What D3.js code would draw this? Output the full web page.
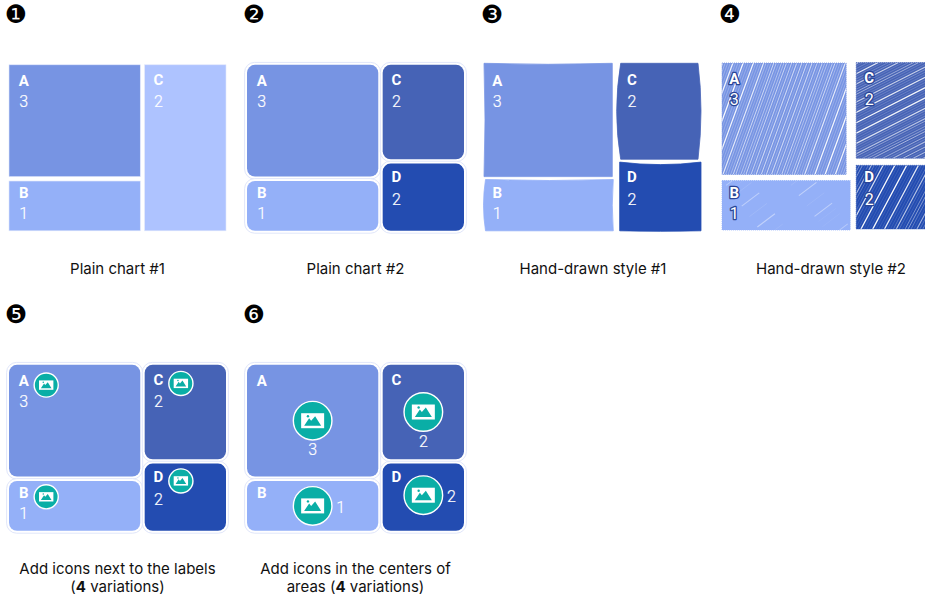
<!DOCTYPE html>
<html>
<head>
    <meta charset="utf-8">
    <title>Treemap variations</title>
    <script src="https://d3js.org/d3.v7.min.js"></script>
    <style>
        body { margin: 0; background: white; overflow: hidden; }
        .caption { font-family: Inter, sans-serif; font-size: 15px; fill: #111; text-anchor: middle; }
        .name { font-family: Roboto, sans-serif; font-size: 15px; font-weight: 700; fill: white; text-anchor: middle; }
        .val { font-family: Roboto, sans-serif; font-size: 16px; font-weight: 300; fill: white; stroke: white; stroke-width: 0.2px; text-anchor: middle; }
    </style>
</head>
<body>
    <div id="chart"></div>

    <script>
        // data
        var categories = ["A", "B", "C", "D"];
        var values = [3, 1, 2, 2];
        // the drawn areas are not proportional to the labels, so they get their own weights
        var areaWeights = [150.6, 70.2, 80.9, 58.6];
        var columns = [["A", "B"], ["C", "D"]];
        var colors = ["#7794e3", "#94b0f8", "#4663b6", "#234cb1"];
        var plainC = "#aec3ff";
        var badges = ["❶", "❷", "❸", "❹", "❺", "❻"];
        var captions = [
            ["Plain chart #1"],
            ["Plain chart #2"],
            ["Hand-drawn style #1"],
            ["Hand-drawn style #2"],
            ["Add icons next to the labels", "(<b>4</b> variations)"],
            ["Add icons in the centers of", "areas (<b>4</b> variations)"]
        ];

        var svg = d3.select("#chart").append("svg")
            .attr("width", 925)
            .attr("height", 598);

        var defs = svg.append("defs");

        var byName = {};
        categories.forEach(function(c, i) {
            byName[c] = { name: c, value: values[i], weight: areaWeights[i], color: colors[i] };
        });

        // label centre offsets inside a cell
        var labelPos = { A: [14.7, 16, 36.5], B: [14.7, 11.5, 32], C: [13.7, 14.3, 36.5], D: [13.7, 13, 35.5] };

        function layout(x0, y0, w, h, pad, merged) {
            var data = {
                children: columns.map(function(col) {
                    if (merged && col[0] === "C") {
                        return { children: [{ name: "C", value: 2, weight: byName.C.weight + byName.D.weight, color: plainC }] };
                    }
                    return { children: col.map(function(n) { return byName[n]; }) };
                })
            };
            var root = d3.hierarchy(data).sum(function(d) { return d.weight || 0; });
            d3.treemap()
                .size([w, h])
                .paddingInner(pad)
                .round(false)
                .tile(function(node, a, b, c, d) {
                    (node.depth === 0 ? d3.treemapDice : d3.treemapSlice)(node, a, b, c, d);
                })(root);
            return root.leaves().map(function(l) {
                return { name: l.data.name, value: l.data.value, color: l.data.color,
                         x: x0 + l.x0, y: y0 + l.y0, w: l.x1 - l.x0, h: l.y1 - l.y0 };
            });
        }

        function addLabels(g, c, showValue, dx) {
            var p = labelPos[c.name];
            var lx = c.x + p[0] + (dx || 0);
            var name = g.append("text").attr("class", "name")
                .attr("x", lx).attr("y", c.y + p[1]).attr("dy", "0.36em").text(c.name);
            var val = null;
            if (showValue) {
                val = g.append("text").attr("class", "val")
                    .attr("x", lx).attr("y", c.y + p[2]).attr("dy", "0.36em").text(c.value);
            }
            return [name, val];
        }

        // teal disc with the picture glyph, r = disc radius
        function addIcon(g, cx, cy, r) {
            var s = r / 20;
            var ic = g.append("g").attr("transform", "translate(" + cx + "," + cy + ") scale(" + s + ")");
            ic.append("circle").attr("r", 19.3).attr("fill", "#0aaea6").attr("stroke", "white").attr("stroke-width", 1.4 / s);
            ic.append("rect").attr("x", -11.5).attr("y", -7.5).attr("width", 23).attr("height", 15).attr("fill", "white");
            ic.append("path").attr("fill", "#0aaea6").attr("d", d3.line()([[-8.5, 5], [-3.5, -2.5], [-1.5, 0], [2.5, -4.5], [8.5, 5]]) + "Z");
            ic.append("circle").attr("cx", -4.7).attr("cy", -4.5).attr("r", 1.2).attr("fill", "#0aaea6");
        }

        function roundedCell(g, c) {
            g.append("rect").attr("x", c.x - 2.4).attr("y", c.y - 2.4)
                .attr("width", c.w + 4.8).attr("height", c.h + 4.8).attr("rx", 10)
                .attr("fill", "white").attr("stroke", "#e0e6fa").attr("stroke-width", 1);
            g.append("rect").attr("x", c.x).attr("y", c.y)
                .attr("width", c.w).attr("height", c.h).attr("rx", 8).attr("fill", c.color);
        }

        // panel 1
        var p1 = svg.append("g");
        layout(9, 64.8, 217, 166, 4.4, true).forEach(function(c) {
            p1.append("rect").attr("x", c.x).attr("y", c.y).attr("width", c.w).attr("height", c.h)
                .attr("fill", c.color).attr("stroke", "#dfe6fb").attr("stroke-width", 0.6);
            addLabels(p1, c, true);
        });

        // panel 2
        var p2 = svg.append("g");
        var cells2 = layout(247, 64.8, 217, 166, 4.4, false);
        cells2.forEach(function(c) { roundedCell(p2, c); });
        cells2.forEach(function(c) { addLabels(p2, c, true); });

        // panel 3: edges pushed out (+) or in (-) at their middle: top, right, bottom, left
        var wobble = { A: [-1, 0, 0, -1], B: [-1, -1, 0, 2], C: [0, 3, 0, 4], D: [-2.5, 0, 0.5, 0] };
        var inset = { A: [0, 3, 0, 0], B: [0, 2, 0, 1.5], C: [0, 3, 0, 1], D: [0, 0, 0, 0] };
        var p3 = svg.append("g");
        layout(484, 64.8, 217, 166, 4.4, false).forEach(function(c) {
            var w = wobble[c.name], n = inset[c.name];
            var x0 = c.x + n[3], x1 = c.x + c.w - n[1], y0 = c.y - 1.5 + n[0], y1 = c.y + c.h - n[2];
            var mx = (x0 + x1) / 2, my = (y0 + y1) / 2;
            var d = d3.path();
            d.moveTo(x0, y0);
            d.quadraticCurveTo(mx, y0 - 2 * w[0], x1, y0);
            d.quadraticCurveTo(x1 + 2 * w[1], my, x1, y1);
            d.quadraticCurveTo(mx, y1 + 2 * w[2], x0, y1);
            d.quadraticCurveTo(x0 - 2 * w[3], my, x0, y0);
            d.closePath();
            p3.append("path").attr("d", d.toString()).attr("fill", c.color)
                .attr("stroke", c.color).attr("stroke-width", 0.8).attr("stroke-linejoin", "round");
            addLabels(p3, c, true, -1.4);
        });

        // panel 4: scribbled fill, hatch angle in degrees, line step, white strength
        var hatch = {
            A: { angle: 70, step: 2.4, low: 0.3, high: 1, dash: null, labelDx: -2.4, inset: [0, 4, 0.5, 0] },
            B: { angle: 37, step: 6.5, low: 0, high: 0.55, dash: "22 30", labelDx: -2.4, inset: [-0.5, 0, 0, 0] },
            C: { angle: 27, step: 2.3, low: 0.2, high: 1, dash: null, labelDx: -0.7, inset: [-0.5, 0, -1, 0] },
            D: { angle: 62, step: 2.6, low: 0.15, high: 1, dash: null, labelDx: -0.7, inset: [2, 0, 1, 0] }
        };
        var p4 = svg.append("g");
        layout(722, 63, 213, 167, 6, false).forEach(function(c, ci) {
            var h = hatch[c.name];
            var x = c.x, y = c.y + h.inset[0];
            var w = c.w - h.inset[1], ht = c.h - h.inset[0] - h.inset[2];
            var id = "hatch" + c.name;
            defs.append("clipPath").attr("id", id).append("rect")
                .attr("x", x).attr("y", y).attr("width", w).attr("height", ht);
            p4.append("rect").attr("x", x).attr("y", y).attr("width", w).attr("height", ht).attr("fill", c.color);
            var g = p4.append("g").attr("clip-path", "url(#" + id + ")");
            var a = h.angle * Math.PI / 180;
            var ux = Math.cos(a), uy = -Math.sin(a);
            var nx = Math.sin(a), ny = Math.cos(a);
            var len = 400;
            var cx = x + w / 2, cy = y + ht / 2;
            // irregular line strength between 0 and 1
            function strength(i) {
                var k = Math.abs(Math.sin(i * 2.3 + ci) + Math.sin(i * 0.71 + ci * 2)) / 2;
                return k * k;
            }
            g.selectAll("line")
                .data(d3.range(-130, 130))
                .enter()
                .append("line")
                .attr("x1", function(i) { return cx + nx * i * h.step - ux * len; })
                .attr("y1", function(i) { return cy + ny * i * h.step - uy * len; })
                .attr("x2", function(i) { return cx + nx * i * h.step + ux * len; })
                .attr("y2", function(i) { return cy + ny * i * h.step + uy * len; })
                .attr("stroke", "white")
                .attr("stroke-dasharray", h.dash)
                .attr("stroke-width", function(i) { return 0.7 + 0.6 * strength(i); })
                .attr("stroke-opacity", function(i) { return h.low + (h.high - h.low) * strength(i); });
            p4.append("rect").attr("x", x).attr("y", y).attr("width", w).attr("height", ht)
                .attr("fill", "none").attr("stroke", c.color).attr("stroke-width", 0.8).attr("stroke-dasharray", "1 1");
            var t = addLabels(p4, c, true, h.labelDx);
            t.forEach(function(s) {
                s.style("paint-order", "stroke").style("stroke", "#2a4596").style("stroke-width", "2.6px")
                    .attr("stroke-linejoin", "round");
            });
            t[1].style("font-weight", 400);
        });

        // panel 5: small icon right of the label
        var p5 = svg.append("g");
        var cells5 = layout(9, 364.8, 217, 166, 4.4, false);
        cells5.forEach(function(c) { roundedCell(p5, c); });
        cells5.forEach(function(c) {
            var p = labelPos[c.name];
            addLabels(p5, c, true);
            addIcon(p5, c.x + p[0] + 22.5, c.y + p[1] + 4.3, 12.5);
        });

        // panel 6: large icon in the centre, value below or beside it
        var p6 = svg.append("g");
        var cells6 = layout(247, 364.8, 217, 166, 4.4, false);
        cells6.forEach(function(c) { roundedCell(p6, c); });
        cells6.forEach(function(c) {
            addLabels(p6, c, false);
            var cx = c.x + c.w / 2, cy = c.y + c.h / 2;
            if (c.name === "D") { cy -= 2; }
            addIcon(p6, cx, cy, 20);
            var beside = c.name === "B" || c.name === "D";
            p6.append("text").attr("class", "val")
                .attr("x", beside ? cx + 28 : cx)
                .attr("y", beside ? cy + 1 : cy + 29)
                .attr("dy", "0.36em")
                .text(c.value);
        });

        // badges and captions
        var slotX = [117.5, 355.5, 593, 831, 117.5, 355.5];
        var badgeX = [16, 254, 492, 730, 16, 254];
        badges.forEach(function(b, i) {
            var top = i < 4;
            svg.append("text")
                .attr("x", badgeX[i])
                .attr("y", top ? 14 : 314)
                .attr("dy", "0.36em")
                .attr("text-anchor", "middle")
                .style("font-family", "'DejaVu Sans'")
                .style("font-size", "25px")
                .attr("fill", "black")
                .text(b);
            var lines = captions[i];
            lines.forEach(function(line, j) {
                var t = svg.append("text").attr("class", "caption")
                    .attr("x", slotX[i])
                    .attr("y", (top ? 269 : 569) + j * 18)
                    .attr("dy", "0.36em");
                line.split(/<b>|<\/b>/).forEach(function(part, k) {
                    t.append("tspan").style("font-weight", k === 1 ? 700 : 400).text(part);
                });
            });
        });
    </script>
</body>
</html>
